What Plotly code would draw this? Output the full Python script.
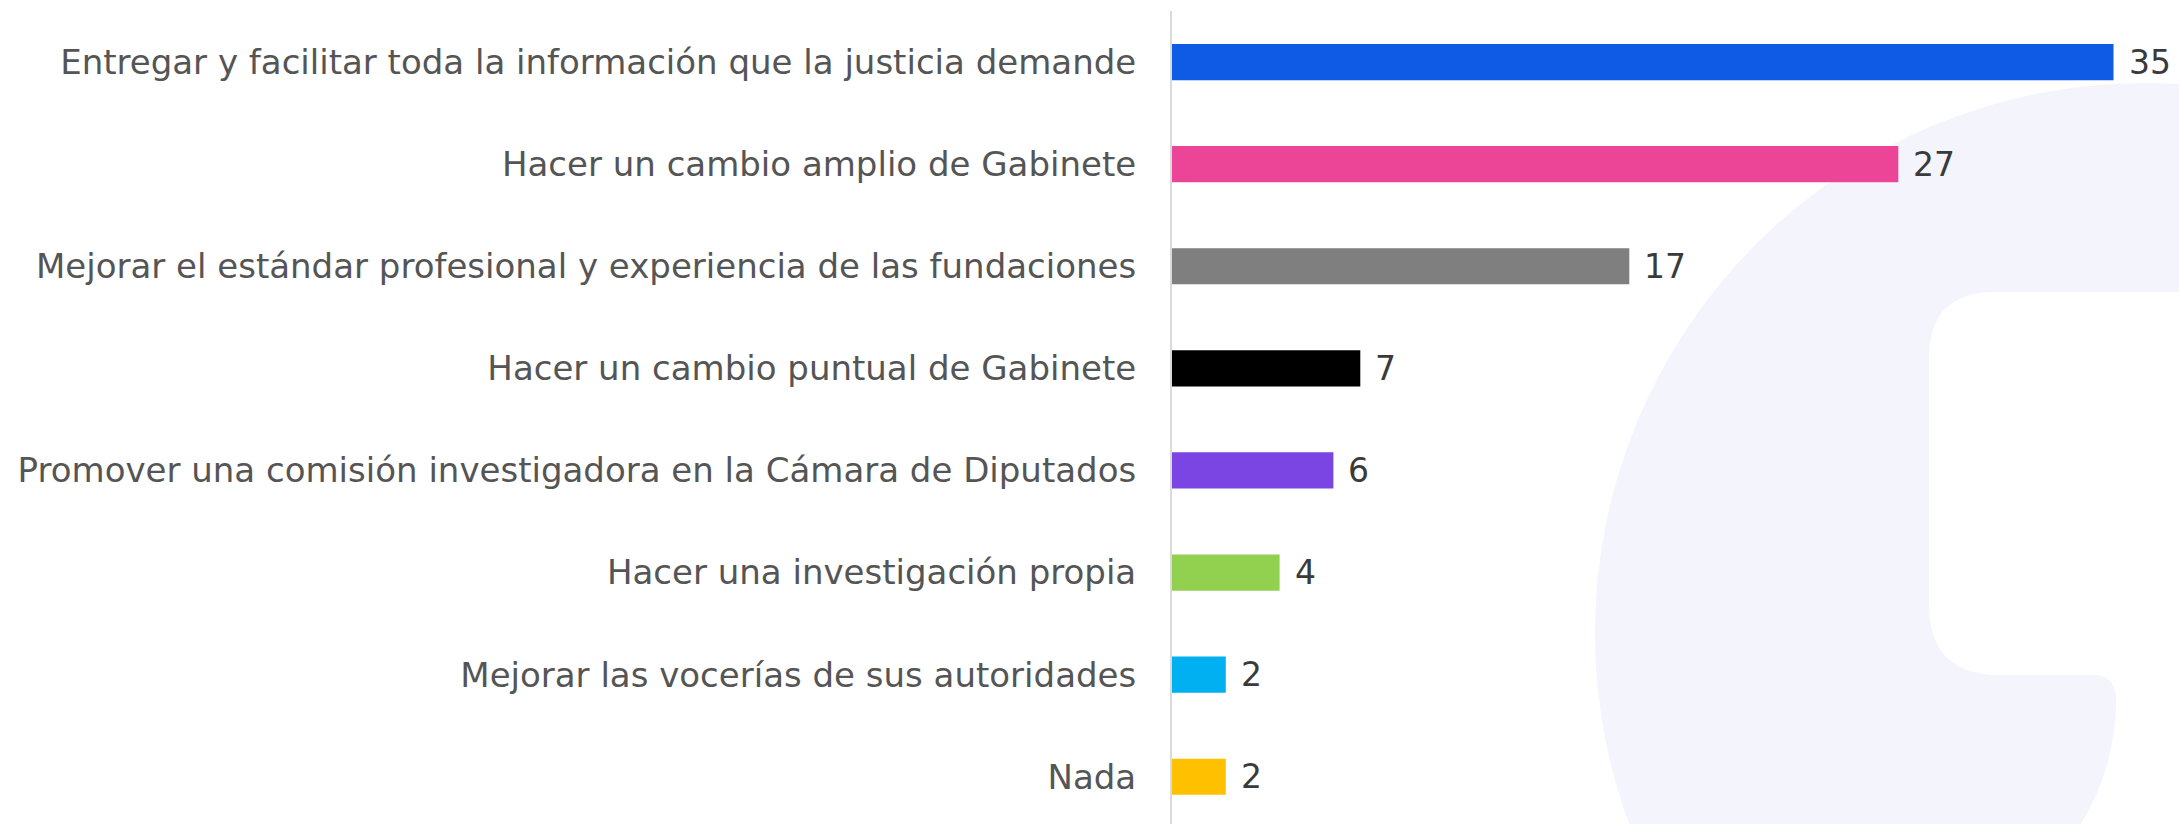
import plotly.graph_objects as go

categories = [
    "Entregar y facilitar toda la información que la justicia demande",
    "Hacer un cambio amplio de Gabinete",
    "Mejorar el estándar profesional y experiencia de las fundaciones",
    "Hacer un cambio puntual de Gabinete",
    "Promover una comisión investigadora en la Cámara de Diputados",
    "Hacer una investigación propia",
    "Mejorar las vocerías de sus autoridades",
    "Nada",
]
values = [35, 27, 17, 7, 6, 4, 2, 2]
colors = ["#105BE6", "#EC4497", "#7F7F7F", "#000000", "#7B45E3", "#92D050", "#00B0F0", "#FFC000"]

W, H = 2179, 824
ML, MT, MB, MR = 1172, 11, 0, 0
PW, PH = W - ML - MR, H - MT - MB

def px(x):
    return (x - ML) / PW

def py(y):
    return (H - MB - y) / PH

fig = go.Figure()
fig.add_trace(go.Bar(
    x=values, y=categories, orientation="h",
    marker=dict(color=colors, line=dict(width=0)),
    width=0.355, hoverinfo="skip",
))

for c, v in zip(categories, values):
    fig.add_annotation(x=v, y=c, text=str(v), showarrow=False, xanchor="left",
                       xshift=13, font=dict(family="DejaVu Sans", size=33, color="#3A3A3A"))

# decorative watermark (background logo)
lav = "#F3F4FC"
fig.add_shape(type="circle", xref="paper", yref="paper", layer="below",
              x0=px(2145 - 550), x1=px(2145 + 550), y0=py(633 + 550), y1=py(633 - 550),
              fillcolor=lav, line=dict(width=0))

def P(x, y):
    return f"{px(x):.5f},{py(y):.5f}"

cut = ("M " + P(2400, 292) + " L " + P(1995, 292) + " Q " + P(1929, 292) + " " + P(1929, 358) +
       " L " + P(1929, 605) + " Q " + P(1929, 675) + " " + P(2000, 675) +
       " L " + P(2095, 675) + " Q " + P(2116, 676) + " " + P(2116, 700) +
       " C " + P(2116, 750) + " " + P(2100, 795) + " " + P(2077, 830) +
       " L " + P(2077, 900) + " L " + P(2400, 900) + " Z")
fig.add_shape(type="path", xref="paper", yref="paper", layer="below", path=cut,
              fillcolor="#FFFFFF", line=dict(width=0))

fig.update_layout(
    width=W, height=H,
    margin=dict(l=ML, r=MR, t=MT, b=MB, pad=0),
    paper_bgcolor="rgba(255,255,255,1)", plot_bgcolor="rgba(0,0,0,0)",
    showlegend=False, bargap=0.645,
    font=dict(family="DejaVu Sans", size=34, color="#555555"),
)
fig.update_xaxes(range=[0, PW / 26.9], visible=False, showgrid=False, zeroline=False)
fig.update_yaxes(
    type="category", categoryorder="array", categoryarray=categories,
    range=[-0.5 + PH / 102.1, -0.5],
    showline=True, linecolor="#DADADA", linewidth=2, showgrid=False, zeroline=False,
    ticks="", ticklabelstandoff=27,
    tickfont=dict(family="DejaVu Sans", size=34, color="#555555"),
)

fig.write_html("out.html", config={"displayModeBar": False},
               post_script="document.body.style.margin='0px';document.body.style.overflow='hidden';")
